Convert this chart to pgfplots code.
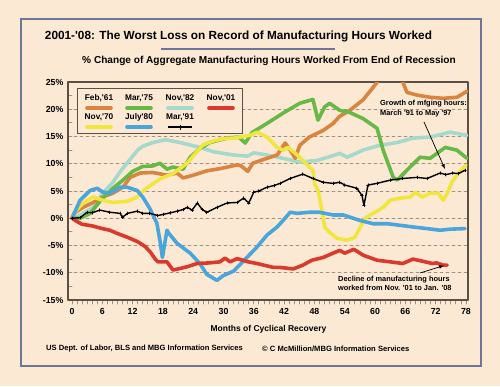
\documentclass[border=0pt]{standalone}
\usepackage{pgfplots}
\pgfplotsset{compat=1.18}
\usepackage{fontspec}
\setmainfont{Liberation Sans}
\newcommand{\q}{\textquotesingle}
\definecolor{bg}{HTML}{FCE9D4}
\definecolor{frameblue}{HTML}{6B7799}
\definecolor{boxc}{HTML}{5C4F45}
\definecolor{gridc}{HTML}{A09080}
\definecolor{corange}{HTML}{D9843F}
\definecolor{cgreen}{HTML}{67B845}
\definecolor{ccyan}{HTML}{A6D9CC}
\definecolor{cred}{HTML}{DA3A2E}
\definecolor{cyellow}{HTML}{F0E63E}
\definecolor{cblue}{HTML}{4AA6DA}
\begin{document}
\begin{tikzpicture}
\fill[bg] (0,0) rectangle (500pt,-386pt);
\useasboundingbox (0,0) rectangle (500pt,-386pt);
\begin{axis}[
  at={(68pt,-300pt)}, anchor=south west, scale only axis,
  width=400pt, height=218pt,
  xmin=-0.79, xmax=78.4, ymin=-15, ymax=25,
  axis line style={boxc, line width=1.2pt},
  xtick={0,6,...,78}, minor x tick num=5,
  ytick={-15,-10,...,25}, minor y tick num=1,
  xtick pos=bottom, ytick pos=left,
  xtick align=outside, ytick align=inside,
  major tick length=4pt, minor tick length=4pt,
  tick style={gridc, line width=0.8pt},
  ymajorgrids, major grid style={gridc, dashed, line width=0.6pt},
  /pgf/number format/assume math mode=true,
  ticklabel style={font=\bfseries\fontsize{8.8}{10}\selectfont},
  yticklabel={\pgfmathprintnumber{\tick}\%},
  yticklabel style={xshift=-1pt},
  xticklabel style={yshift=-1pt},
  line join=round, line cap=round,
  clip=true,
]
\addplot[ccyan, line width=3.6pt] coordinates {
(0,0) (1.6,0.6) (4.2,2.0) (6.1,4.6) (8.1,6.6) (9.5,8.5) (11.5,10.8) (13,12.5) (14,13.2) (16,13.9) (18.5,14.4) (21.4,13.9) (25.3,13) (28,12.2) (32,11.6) (34.7,11.4) (36,12.0) (38.6,11.6) (41.8,11) (45.1,10.3) (48.5,10.6) (51,11.3) (53,11.9) (54.5,11.2) (57.6,12.5) (61,13.4) (64.4,13.9) (67.5,14.7) (70.9,14.9) (74.9,15.8) (78.2,15.2)};
\addplot[corange, line width=3.6pt] coordinates {
(0,0) (0.5,1.0) (2.2,2) (4.2,2.9) (6.1,3.9) (8.1,4.6) (10.1,5.7) (11.5,7.5) (13.5,8.3) (16,8.4) (18.8,7.9) (20.8,8.3) (22,7.4) (24,7.9) (26.7,8.7) (29.3,9.1) (32.7,9.8) (33.5,9.6) (34.8,8.6) (35.8,10.1) (38.6,11) (40.6,11.6) (42.2,13.8) (43.2,12.5) (44.2,11.0) (45.1,13.4) (47,14.9) (49.7,16.1) (51.7,17.4) (53,18.7) (55,19.8) (57.6,21.7) (59.6,24) (60.6,25.2) (62,26.3) (64,26.5) (65.5,25) (66.3,23.1) (68.3,22.6) (70.9,22.2) (73.5,22) (76.2,22.2) (78.2,23.3)};
\addplot[cgreen, line width=3.6pt] coordinates {
(0,0) (1.6,0) (3.6,0.9) (5,2.5) (6.1,3.7) (8.1,5.5) (10.1,7.0) (12,8.6) (14,9.5) (16,9.6) (17.4,10.1) (18.8,9.0) (20,9.4) (22,9.0) (23.4,11.2) (25.3,12.8) (27.3,13.9) (30.7,14.7) (33,14.9) (34.3,13.8) (35.6,15.7) (38.6,17.4) (41.8,19.3) (45.1,21.1) (47.7,21.8) (48.7,18) (50,20.4) (51,21.1) (53,19.8) (55,19.4) (57.6,18.3) (60.4,16.5) (61.6,12.5) (63.6,7.5) (64.4,7.0) (66.3,8.8) (68.9,11.2) (70.9,11.0) (73.9,13) (76.2,12.5) (78.2,11)};
\addplot[cyellow, line width=3.6pt] coordinates {
(0,0) (0.5,1.1) (2.2,2.8) (4.2,3.9) (6.1,3.3) (8.1,2.9) (10.9,3.1) (12.9,3.9) (14.4,5.3) (17.4,7.2) (20,8.2) (22.8,10.1) (24.5,12) (26,13.5) (28,14.2) (30,14.6) (32,14.7) (35.2,15.2) (36.6,15.8) (38.6,14.9) (40.6,13) (41.8,12.5) (42.8,13) (44.6,11.6) (45.7,10.6) (47,9.4) (47.7,8.8) (48,6.4) (48.7,5.1) (49.5,1.5) (50,-1.6) (51,-2.6) (52.5,-3.7) (54.5,-4.0) (56,-3.5) (57,-1.8) (58,0) (59.6,0.9) (61.6,2.0) (63,3.3) (65,3.7) (67,3.9) (68,4.8) (69.3,3.9) (70.9,4.6) (72.5,4.6) (73.5,3.3) (74.3,4.6) (75.2,6.6) (76.5,8.3) (77.4,9.2) (78,9.7)};
\addplot[cblue, line width=3.6pt] coordinates {
(0,0) (1.6,3.3) (3.6,5.1) (5,5.5) (6.1,4.8) (7.5,4.6) (9.5,5.7) (10.9,5.7) (12.9,5.1) (14,3.9) (15.4,1.8) (16.8,-0.9) (17.4,-4) (17.9,-7.2) (18.8,-2.2) (19.2,-2.8) (20.8,-4.6) (23.4,-6.4) (25.3,-8.3) (26.7,-10.3) (28.7,-11.4) (30,-10.5) (32,-9.7) (34,-7.8) (36.6,-5.3) (38.6,-3.1) (40.6,-1.6) (41.8,-0.4) (43.2,1.1) (44.6,0.9) (47,1.1) (49,1.1) (51.7,0.6) (53.7,0.6) (57,-0.4) (59.6,-1) (62.4,-1) (65,-1.3) (67.5,-1.6) (70.3,-1.9) (72.9,-2.2) (74.9,-2) (77.8,-1.9)};
\addplot[cred, line width=3.6pt] coordinates {
(0,0) (1,-0.6) (2,-1.1) (4,-1.4) (6,-1.9) (7.5,-2.2) (9,-2.8) (11,-3.5) (13,-4.3) (14.5,-5.2) (15.5,-6.2) (16.5,-7.5) (17,-8) (18.8,-8) (20,-9.5) (21,-9.3) (22.8,-8.9) (24.8,-8.3) (27,-8.2) (29.3,-8) (30.3,-7.3) (31.3,-8) (32.7,-7.4) (34.9,-8) (36.6,-8.3) (39.8,-9) (41,-9) (43.8,-9.3) (45.7,-8.6) (47.5,-7.7) (49.7,-7.2) (51.7,-6.4) (53,-5.9) (54,-6.4) (55.8,-5.7) (57.7,-6.8) (60.4,-7.7) (63,-8.0) (65.5,-8.3) (67.5,-7.5) (69.5,-7.9) (71.3,-8.3) (72.2,-8.2) (73.5,-8.6) (74.3,-8.6)};
\addplot[black, line width=1.4pt, mark=+, mark size=1.3pt, mark options={line width=0.8pt}] coordinates {
(0,0) (1.6,0.1) (3,1.1) (4,1.0) (5.5,1.5) (7.5,1.1) (9.5,0.9) (10,0.2) (11,0.9) (12.9,1.3) (14,0.9) (15.4,0.9) (17,0.5) (18,0.7) (19.5,1.0) (20.8,1.3) (22,1.6) (22.8,2.0) (23.8,1.5) (24.8,2.8) (25.8,1.6) (26.7,1.1) (28.7,2.0) (30.7,2.8) (32.7,2.9) (34,3.7) (35,2.8) (36,4.8) (37,5.0) (38.6,5.7) (40,6.0) (41.2,6.4) (43.2,7.3) (45.7,8.1) (47.7,7.3) (49.7,6.6) (51.7,6.4) (53,6.6) (54,6.1) (56.4,5.5) (57.4,4.2) (57.8,2.4) (58.6,6.1) (60.4,6.4) (63,7.0) (65.5,7.3) (68.3,7.5) (70.3,7.3) (72.9,8.3) (74,8.0) (75.4,8.3) (76.5,8.2) (77.8,8.8)};
\end{axis}
\begin{scope}[x=1pt,y=-1pt]
% outer frame
\draw[frameblue, line width=2.5pt] (21,19) rectangle (481,366);
% title
\node[font=\bfseries\fontsize{11.8}{13}\selectfont] at (238.5,36) {2001-\q08: The Worst Loss on Record of Manufacturing Hours Worked};
\draw[frameblue, line width=2pt] (161,49) -- (335,49);
\node[font=\bfseries\fontsize{10.1}{12}\selectfont] at (269,61) {\% Change of Aggregate Manufacturing Hours Worked From End of Recession};
% legend
\draw[boxc, fill=bg, line width=1pt] (77,88) rectangle (242,133);
\begin{scope}[font=\bfseries\fontsize{8.3}{10}\selectfont]
\node at (99,98) {Feb,\q61};
\node at (139,98) {Mar,\q75};
\node at (180,98) {Nov,\q82};
\node at (221,98) {Nov,\q01};
\node at (99,117) {Nov,\q70};
\node at (139,117) {July\q80};
\node at (180,117) {Mar,\q91};
\end{scope}
\begin{scope}[line width=3.6pt, line cap=round]
\draw[corange] (87,108) -- (111,108);
\draw[cgreen] (127,108) -- (151,108);
\draw[ccyan] (168,108) -- (192,108);
\draw[cred] (209,108) -- (233,108);
\draw[cyellow] (87,127) -- (111,127);
\draw[cblue] (127,127) -- (151,127);
\end{scope}
\draw[black, line width=1.4pt] (168,127) -- (192,127);
\draw[black, line width=0.8pt] (180,124.5) -- (180,129.5);
% annotations
\node[anchor=north west, align=left, inner sep=0pt, font=\bfseries\fontsize{7.4}{9.6}\selectfont] at (380,100) {Growth of mfging hours:\\March \q91 to May \q97};
\draw[black, line width=0.7pt, -{latex}] (424,122) -- (445,169);
\node[anchor=north west, align=left, inner sep=0pt, font=\bfseries\fontsize{7.4}{8.8}\selectfont] at (338,276) {Decline of manufacturing hours\\worked from Nov. \q01 to Jan. \q08};
\draw[black, line width=0.7pt, -{latex}] (420,273) -- (444,265.5);
% x label and sources
\node[font=\bfseries\fontsize{8.5}{10}\selectfont] at (268.5,329) {Months of Cyclical Recovery};
\node[anchor=west, inner sep=0pt, font=\bfseries\fontsize{7.6}{9}\selectfont] at (46,349) {US Dept. of Labor, BLS and MBG Information Services};
\node[anchor=west, inner sep=0pt, font=\bfseries\fontsize{7.6}{9}\selectfont] at (262,349) {© C McMillion/MBG Information Services};
\end{scope}
\end{tikzpicture}
\end{document}
